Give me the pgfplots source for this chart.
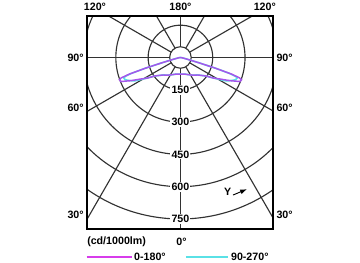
\documentclass[border=0pt]{standalone}
\usepackage{fontspec}
\setmainfont{Liberation Sans}
\usepackage{pgfplots}
\usepackage{pgfplotstable}
\pgfplotsset{compat=1.18}
\definecolor{gridc}{RGB}{50,50,50}
\definecolor{curveA}{RGB}{165,85,235}
\definecolor{legA}{RGB}{215,60,235}
\definecolor{curveB}{RGB}{90,225,230}

% angle in math degrees (0 deg of the diagram points down = 270), r in cd/1000lm
\pgfplotstableread{
ang r
180 0
190 8
194 30
196 90
197 170
198 250
199 290
200 302
202 298
205 255
208 215
212 180
216 146
225 115
235 100
244 89
255 80
270 77
285 80
296 89
305 100
315 115
324 146
328 180
332 215
335 255
338 298
340 302
341 290
342 250
343 170
344 90
346 30
350 8
360 0
}\dataA

\pgfplotstableread{
ang r
180 0
190 8
194 30
196 90
197 170
198 240
199 272
200 280
202 276
204 262
207 240
210 200
212 180
216 146
225 115
235 100
244 89
255 80
270 77
285 80
296 89
305 100
315 115
324 146
328 180
330 200
333 240
336 262
338 276
340 280
341 272
342 240
343 170
344 90
346 30
350 8
360 0
}\dataB

\begin{document}
\begin{tikzpicture}[font=\fontsize{8}{10}\selectfont\bfseries]
\begin{axis}[
  x=0.1615pt, y=0.1615pt,
  xmin=-432, xmax=432, ymin=-797, ymax=193,
  axis lines=box, ticks=none,
  axis line style={line width=1.5pt, black},
  axis on top=true,
  clip=true,
  after end axis/.code={
    \node at (axis cs:0,234) {180°};
    \node at (axis cs:-397,234) {120°};
    \node at (axis cs:392,234) {120°};
    \node[anchor=east, inner sep=1pt] at (axis cs:-442,0) {90°};
    \node[anchor=east, inner sep=1pt] at (axis cs:-442,-234) {60°};
    \node[anchor=east, inner sep=1pt] at (axis cs:-442,-731) {30°};
    \node[anchor=west, inner sep=1pt] at (axis cs:439,0) {90°};
    \node[anchor=west, inner sep=1pt] at (axis cs:439,-234) {60°};
    \node[anchor=west, inner sep=1pt] at (axis cs:439,-731) {30°};
    \node[anchor=west, inner sep=0pt] at (axis cs:-434,-857) {(cd/1000lm)};
    \node at (axis cs:5,-857) {0°};
    \node[anchor=west, inner sep=0pt] at (axis cs:-216,-928) {0-180°};
    \node[anchor=west, inner sep=0pt] at (axis cs:234,-928) {90-270°};
    \coordinate (la1) at (axis cs:-436,-928);
    \coordinate (la2) at (axis cs:-224,-928);
    \coordinate (lb1) at (axis cs:25,-928);
    \coordinate (lb2) at (axis cs:221,-928);
    \coordinate (bl) at (axis cs:-838,-950);
    \coordinate (tr) at (axis cs:834,267);
  },
]
% polar grid
\pgfplotsinvokeforeach{0,30,60,90,120,150,180,210,240,270,300,330}{
  \draw[gridc, line width=0.85pt] ({50*cos(#1)},{50*sin(#1)}) -- ({1200*cos(#1)},{1200*sin(#1)});
}
\pgfplotsinvokeforeach{50,150,300,450,600,750}{
  \draw[gridc, line width=0.85pt] (axis cs:0,0) circle[radius=#1];
}
\pgfplotsinvokeforeach{150,300,450,600,750}{
  \node[fill=white, inner sep=0.8pt] at (axis cs:0,-#1) {#1};
}
\node at (axis cs:219,-625) {Y};
\draw[-latex, black, line width=0.7pt] (axis cs:244,-639) -- (axis cs:308,-612);
% curves
\addplot[curveB, line width=1.2pt, data cs=polar] table[x=ang, y=r] {\dataB};
\addplot[curveA, line width=1.1pt, data cs=polar] table[x=ang, y=r] {\dataA};
\end{axis}
\draw[draw=legA, line width=1.5pt] (la1) -- (la2);
\draw[draw=curveB, line width=1.5pt] (lb1) -- (lb2);
\pgfresetboundingbox
\useasboundingbox (bl) rectangle (tr);
\end{tikzpicture}
\end{document}
